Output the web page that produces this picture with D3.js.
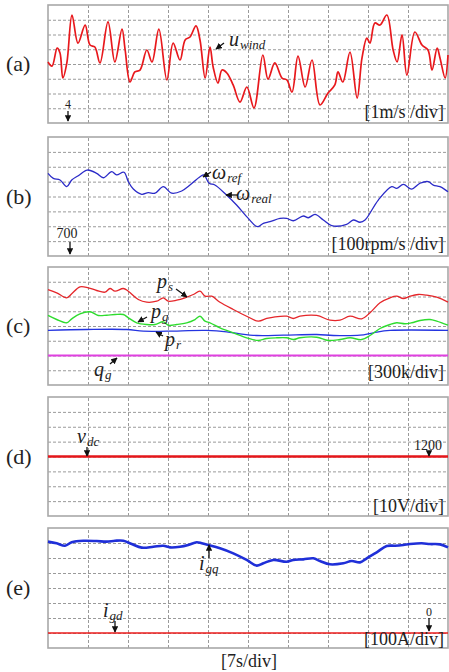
<!DOCTYPE html>
<html>
<head>
<meta charset="utf-8">
<title></title>
<script src="https://d3js.org/d3.v7.min.js"></script>
<style>
	body { margin: 0; background: #fff; }
	svg text { font-family: "Liberation Serif", "Times New Roman", Times, serif; fill: #222; }
	.grid line { stroke: #9a9a9a; stroke-width: 1; stroke-dasharray: 3,2; }
	.grid path { display: none; }
	.frame { fill: none; stroke: #a8a8a8; stroke-width: 1.6; }
	.trace { fill: none; stroke-linejoin: round; }
</style>
</head>
<body>
<script>
	// time base: 7 s/div, 10 divisions
	var timeTicks = [7, 14, 21, 28, 35, 42, 49, 56, 63];

	// (a) wind speed [m/s]
	var windT = [0, 0.7, 1.6, 2.1, 2.6, 3.3, 4.2, 5.25, 6.5, 7.35, 8.2, 9.1, 10.5, 11.7, 12.95, 13.5, 14.35, 15.2, 16.1, 17.3, 18.2, 19.4, 20.8, 21.9, 23.1, 24.0, 24.85, 25.9, 26.6, 27.5, 28.35, 28.9, 29.75, 30.45, 31.3, 32.4, 33.6, 34.8, 36.05, 37.6, 38.5, 39.7, 40.95, 41.8, 42.7, 43.75, 45.0, 46.2, 47.6, 49.0, 50.2, 50.75, 51.6, 52.85, 54.1, 54.95, 55.8, 56.35, 57.2, 58.1, 59.3, 60.4, 61.1, 61.95, 62.8, 64.2, 65.45, 66.5, 67.2, 68.1, 68.6, 69.5, 70];
	var windV = [8.14, 7.86, 9.08, 8.75, 7.05, 8.07, 11.32, 9.42, 10.64, 9.29, 9.15, 8.07, 10.85, 8.14, 10.37, 8.95, 6.78, 7.46, 7.59, 8.95, 8.14, 10.37, 6.92, 9.42, 8.27, 9.63, 9.83, 10.58, 9.63, 7.05, 9.15, 7.80, 6.71, 7.59, 7.39, 6.58, 5.42, 6.44, 5.02, 8.61, 6.98, 8.07, 7.05, 6.92, 6.10, 8.54, 6.44, 8.27, 5.22, 6.03, 6.58, 7.46, 6.78, 8.81, 5.69, 8.41, 9.76, 9.42, 10.78, 10.64, 11.32, 8.95, 8.14, 9.97, 7.25, 10.17, 9.29, 8.95, 7.59, 9.08, 8.41, 7.05, 8.61];

	// (b) rotor speed [rpm]
	var speedT = [0, 0.93, 2.1, 3.27, 4.15, 5.3, 6.88, 8.52, 9.68, 11.15, 12.0, 13.3, 14.05, 14.93, 16.4, 17.55, 18.73, 20.18, 21.65, 23.4, 24.85, 26.6, 27.3, 28.2, 29.2, 31.24, 33.0, 35.05, 36.63, 37.68, 38.85, 40.6, 41.77, 42.93, 44.68, 45.55, 46.73, 48.18, 49.65, 52.27, 53.43, 54.6, 55.48, 57.8, 60.15, 61.02, 62.18, 63.65, 65.1, 66.55, 67.43, 68.6, 70];
	var speedV = [1256, 1222, 1211, 1166, 1211, 1240, 1278, 1256, 1226, 1267, 1245, 1263, 1200, 1150, 1115, 1126, 1122, 1166, 1122, 1137, 1177, 1233, 1245, 1189, 1177, 1110, 1043, 953, 897, 920, 931, 953, 953, 937, 969, 957, 980, 942, 904, 913, 942, 927, 942, 1076, 1166, 1155, 1182, 1150, 1189, 1200, 1177, 1166, 1132];

	// (c) powers [kW / kVar]
	var psT = [0, 1.52, 3.27, 4.15, 5.6, 7.05, 8.52, 9.98, 10.85, 11.73, 13.18, 14.05, 15.8, 17.27, 19.02, 20.18, 21.05, 22.52, 23.98, 25.43, 26.6, 27.48, 28.65, 30.1, 32.43, 34.77, 36.8, 38.27, 39.73, 41.77, 42.93, 44.1, 47.02, 49.35, 51.1, 52.85, 54.9, 56.35, 58.1, 59.85, 61.02, 62.18, 63.35, 64.8, 66.27, 68.02, 70];
	var psV = [1342, 1275, 1174, 1255, 1397, 1377, 1322, 1288, 1363, 1308, 1363, 1308, 1139, 1084, 1104, 1174, 1104, 1125, 1174, 1241, 1308, 1206, 1206, 1084, 936, 799, 698, 753, 787, 799, 753, 799, 814, 718, 718, 799, 746, 869, 1072, 1174, 1206, 1159, 1206, 1241, 1227, 1186, 1084];
	var pgT = [0, 1.52, 3.27, 4.15, 5.6, 7.35, 8.8, 10.27, 11.73, 13.18, 14.05, 15.52, 17.27, 18.73, 20.18, 21.05, 22.52, 24.27, 25.73, 26.6, 27.48, 28.35, 30.1, 32.43, 34.77, 36.8, 38.27, 40.02, 41.77, 42.93, 44.1, 47.02, 49.05, 51.1, 52.85, 54.9, 56.35, 58.1, 59.85, 61.02, 62.48, 63.65, 65.1, 66.85, 68.02, 70];
	var pgV = [814, 732, 665, 746, 848, 889, 814, 820, 834, 834, 767, 665, 631, 631, 685, 616, 631, 665, 732, 799, 698, 665, 563, 462, 360, 305, 346, 360, 360, 325, 360, 372, 305, 325, 360, 325, 407, 549, 631, 665, 645, 665, 712, 732, 698, 616];
	var prT = [0, 6.77, 13.77, 16.68, 20.77, 27.77, 31.27, 33.6, 36.52, 41.18, 47.02, 49.93, 54.6, 56.93, 59.85, 70];
	var prV = [509, 529, 529, 494, 494, 509, 482, 441, 407, 413, 427, 407, 413, 462, 509, 509];
	var qgT = [0, 70];
	var qgV = [0, 0];

	// (d) dc-link voltage [V]
	var vdcT = [0, 10, 20, 30, 40, 50, 60, 70];
	var vdcV = [1200, 1200, 1200, 1200, 1200, 1200, 1200, 1200];

	// (e) grid currents [A]
	var igqT = [0, 1.52, 2.98, 4.15, 6.18, 8.52, 10.27, 11.73, 13.18, 14.65, 16.4, 18.43, 20.18, 21.35, 23.1, 24.55, 26.02, 26.9, 28.05, 30.1, 32.43, 34.77, 36.52, 37.68, 39.43, 41.77, 42.93, 44.68, 46.43, 47.6, 49.35, 51.68, 53.15, 54.6, 55.77, 57.52, 59.27, 60.72, 62.18, 63.35, 65.4, 66.85, 68.6, 70];
	var igqV = [609, 598, 582, 605, 615, 613, 609, 615, 615, 593, 569, 575, 582, 571, 575, 587, 605, 598, 587, 565, 531, 487, 449, 465, 487, 475, 487, 491, 498, 480, 458, 465, 480, 471, 498, 538, 580, 582, 587, 593, 598, 593, 591, 571];
	var igdT = [0, 70];
	var igdV = [0, 0];

	var W = 449, H = 672;
	var svg = d3.select('body').append('svg')
		.attr('width', W)
		.attr('height', H);

	svg.append('defs').append('marker')
		.attr('id', 'head')
		.attr('viewBox', '0 0 10 10')
		.attr('refX', 9).attr('refY', 5)
		.attr('markerWidth', 5).attr('markerHeight', 5)
		.attr('orient', 'auto')
		.append('path')
		.attr('d', 'M0,0 L10,5 L0,10 z')
		.attr('fill', '#111');

	var x = d3.scaleLinear().domain([0, 70]).range([48, 448]);

	var panels = [
		{ name: '(a)', top: 5, bottom: 123, lo: 4, hi: 12, unit: '[1m/s /div]', unitY: 118 },
		{ name: '(b)', top: 137, bottom: 256, lo: 700, hi: 1500, unit: '[100rpm/s /div]', unitY: 250 },
		{ name: '(c)', top: 267, bottom: 385, lo: -600, hi: 1800, unit: '[300k/div]', unitY: 378 },
		{ name: '(d)', top: 397, bottom: 516, lo: 1160, hi: 1240, unit: '[10V/div]', unitY: 512 },
		{ name: '(e)', top: 528, bottom: 648, lo: -100, hi: 700, unit: '[100A/div]', unitY: 645 }
	];

	panels.forEach(function (p) {
		p.y = d3.scaleLinear().domain([p.lo, p.hi]).range([p.bottom, p.top]);
		var step = (p.hi - p.lo) / 8;
		var g = svg.append('g');
		p.g = g;

		g.append('g').attr('class', 'grid')
			.attr('transform', 'translate(0,' + p.bottom + ')')
			.call(d3.axisBottom(x).tickValues(timeTicks).tickSize(-(p.bottom - p.top)).tickFormat(''));
		g.append('g').attr('class', 'grid')
			.attr('transform', 'translate(48,0)')
			.call(d3.axisLeft(p.y).tickValues(d3.range(1, 8).map(function (k) { return p.lo + k * step; }))
				.tickSize(-400).tickFormat(''));

		g.append('rect').attr('class', 'frame')
			.attr('x', 48).attr('y', p.top)
			.attr('width', 400).attr('height', p.bottom - p.top);

		g.append('text')
			.attr('x', 6).attr('y', (p.top + p.bottom) / 2 + 7)
			.style('font-size', '22px')
			.text(p.name);
	});

	function trace(p, tt, vv, color, width) {
		var line = d3.line()
			.curve(d3.curveCatmullRom.alpha(0.5))
			.x(function (d) { return x(d[0]); })
			.y(function (d) { return p.y(d[1]); });
		p.g.append('path')
			.attr('class', 'trace')
			.attr('d', line(d3.zip(tt, vv)))
			.attr('stroke', color)
			.attr('stroke-width', width);
	}

	trace(panels[0], windT, windV, '#e8181c', 1.7);
	trace(panels[1], speedT, speedV, '#2b2bc8', 1.3);
	trace(panels[2], qgT, qgV, '#e040e0', 2.2);
	trace(panels[2], prT, prV, '#2434e0', 1.3);
	trace(panels[2], pgT, pgV, '#2edc2e', 1.4);
	trace(panels[2], psT, psV, '#e5262a', 1.3);
	trace(panels[3], vdcT, vdcV, '#e5161a', 2.6);
	trace(panels[4], igdT, igdV, '#ec1c1c', 1.6);
	trace(panels[4], igqT, igqV, '#1f2fd8', 2.6);

	// labels
	function varName(xx, yy, main, sub) {
		var t = svg.append('text')
			.attr('x', xx).attr('y', yy)
			.style('font-style', 'italic')
			.style('font-size', '20px');
		t.append('tspan').text(main);
		t.append('tspan').attr('dx', 1).attr('dy', 3).style('font-size', '13px').text(sub);
	}
	function plain(xx, yy, s, size, anchor) {
		svg.append('text')
			.attr('x', xx).attr('y', yy)
			.attr('text-anchor', anchor || 'start')
			.style('font-size', size + 'px')
			.text(s);
	}
	function arrow(x1, y1, x2, y2) {
		svg.append('line')
			.attr('x1', x1).attr('y1', y1)
			.attr('x2', x2).attr('y2', y2)
			.attr('stroke', '#111').attr('stroke-width', 1.3)
			.attr('marker-end', 'url(#head)');
	}

	panels.forEach(function (p) {
		plain(444, p.unitY, p.unit, 18, 'end');
	});

	// (a)
	varName(229, 46, 'u', 'wind');
	arrow(224, 43, 216, 49);
	plain(68, 108, '4', 12, 'middle');
	arrow(68, 111, 68, 121);

	// (b)
	varName(212, 179, 'ω', 'ref');
	arrow(211, 172, 203, 177);
	varName(236, 200, 'ω', 'real');
	arrow(238, 195, 226, 195);
	plain(67, 238, '700', 14, 'middle');
	arrow(70, 242, 70, 254);

	// (c)
	varName(157, 288, 'p', 's');
	arrow(176, 289, 187, 297);
	varName(151, 318, 'p', 'g');
	arrow(147, 317, 138, 322);
	varName(165, 346, 'p', 'r');
	arrow(163, 336, 156, 332);
	varName(94, 376, 'q', 'g');
	arrow(110, 364, 117, 358);

	// (d)
	varName(77, 443, 'v', 'dc');
	arrow(87, 447, 87, 456);
	plain(428, 450, '1200', 14, 'middle');
	arrow(429, 452, 429, 456);

	// (e)
	varName(199, 570, 'i', 'gq');
	arrow(209, 558, 209, 545);
	varName(103, 617, 'i', 'gd');
	arrow(115, 621, 115, 632);
	plain(429, 616, '0', 12, 'middle');
	arrow(429, 618, 429, 631);

	plain(249, 667, '[7s/div]', 18, 'middle');
</script>
</body>
</html>
